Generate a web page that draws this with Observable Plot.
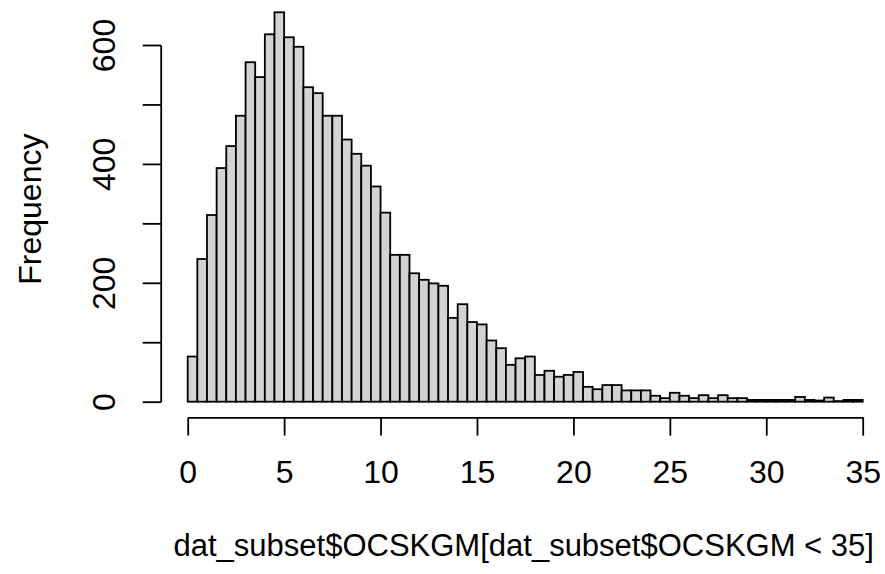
<!DOCTYPE html>
<html>
<head>
<meta charset="utf-8">
<script src="https://cdn.jsdelivr.net/npm/d3@7"></script>
<script src="https://cdn.jsdelivr.net/npm/@observablehq/plot@0.6"></script>
<style>
  html, body { margin: 0; padding: 0; background: #ffffff; }
</style>
</head>
<body>
<div id="chart"></div>
<script>
// ---- data (bins of width 0.5 from 0 to 35) ----
const binWidth = 0.5;
const counts = [
  76, 240, 314, 393, 430, 481, 571, 546, 618, 655,
  613, 597, 529, 519, 481, 481, 441, 417, 397, 362,
  318, 247, 247, 216, 205, 199, 195, 141, 164, 134,
  130, 103, 90, 62, 73, 76, 45, 52, 42, 45,
  50, 25, 21, 28, 28, 19, 19, 19, 10, 6,
  15, 10, 6, 11, 6, 11, 6, 6, 3, 3,
  3, 3, 3, 8, 3, 2, 7, 1, 3, 3
];
const xTicks = [0, 5, 10, 15, 20, 25, 30, 35];
const yTicks = [0, 100, 200, 300, 400, 500, 600];
const yLabeledTicks = [0, 200, 400, 600];
const xLabel = "dat_subset$OCSKGM[dat_subset$OCSKGM < 35]";
const yLabel = "Frequency";

// ---- derived table ----
const bins = counts.map((c, i) => ({x1: i * binWidth, x2: (i + 1) * binWidth, count: c}));
const xMax = bins[bins.length - 1].x2;
const yMax = d3.max(counts);
const ext = 0.04; // R's default 4% axis extension
const xAxisAt = -ext * yMax;
const yAxisAt = -ext * xMax;

const font = "'Liberation Sans', Arial, Helvetica, sans-serif";
const fs = 32;
const lw = 1.8;
const tick = 18.3;

const chart = Plot.plot({
  width: 885,
  height: 574,
  marginLeft: 161,
  marginRight: 0,
  marginTop: 0,
  marginBottom: 156.7,
  style: {fontFamily: font, fontSize: fs + "px", color: "#000", background: "#fff", overflow: "visible"},
  x: {domain: [0, 35], range: [187.7, 862.7]},
  y: {domain: [0, 600], range: [401.7, 45]},
  marks: [
    Plot.rectY(bins, {x1: "x1", x2: "x2", y: "count", fill: "#d3d3d3", stroke: "#000", strokeWidth: lw}),
    // axis lines (R style: from first to last tick, offset from the data region)
    Plot.link([yTicks], {
      x1: () => yAxisAt, x2: () => yAxisAt,
      y1: d => d[0], y2: d => d[d.length - 1],
      stroke: "#000", strokeWidth: lw
    }),
    Plot.link([xTicks], {
      x1: d => d[0], x2: d => d[d.length - 1],
      y1: () => xAxisAt, y2: () => xAxisAt,
      stroke: "#000", strokeWidth: lw
    }),
    // y ticks (no labels)
    Plot.axisY({
      ticks: yTicks,
      tickSize: tick,
      tickFormat: () => "",
      label: null,
      strokeWidth: lw
    }),
    // y tick labels, parallel to the axis
    Plot.axisY({
      ticks: yLabeledTicks,
      tickSize: 0,
      tickPadding: 57,
      tickFormat: d => String(d),
      rotate: -90,
      textAnchor: "middle",
      lineAnchor: "middle",
      label: null,
      fontSize: fs
    }),
    Plot.axisX({
      ticks: xTicks,
      tickSize: tick,
      tickPadding: 36.4,
      tickFormat: d => String(d),
      lineAnchor: "middle",
      label: null,
      strokeWidth: lw,
      fontSize: fs
    }),
    Plot.text([xLabel], {
      x: () => xMax / 2,
      frameAnchor: "bottom",
      dy: 128.5,
      dx: -2,
      lineAnchor: "middle",
      text: d => d,
      fontSize: 31
    }),
    Plot.text([yLabel], {
      frameAnchor: "left",
      dx: -131,
      rotate: -90,
      lineAnchor: "middle",
      textAnchor: "middle",
      text: d => d,
      fontSize: fs
    })
  ]
});
document.getElementById("chart").appendChild(chart);
</script>
</body>
</html>
